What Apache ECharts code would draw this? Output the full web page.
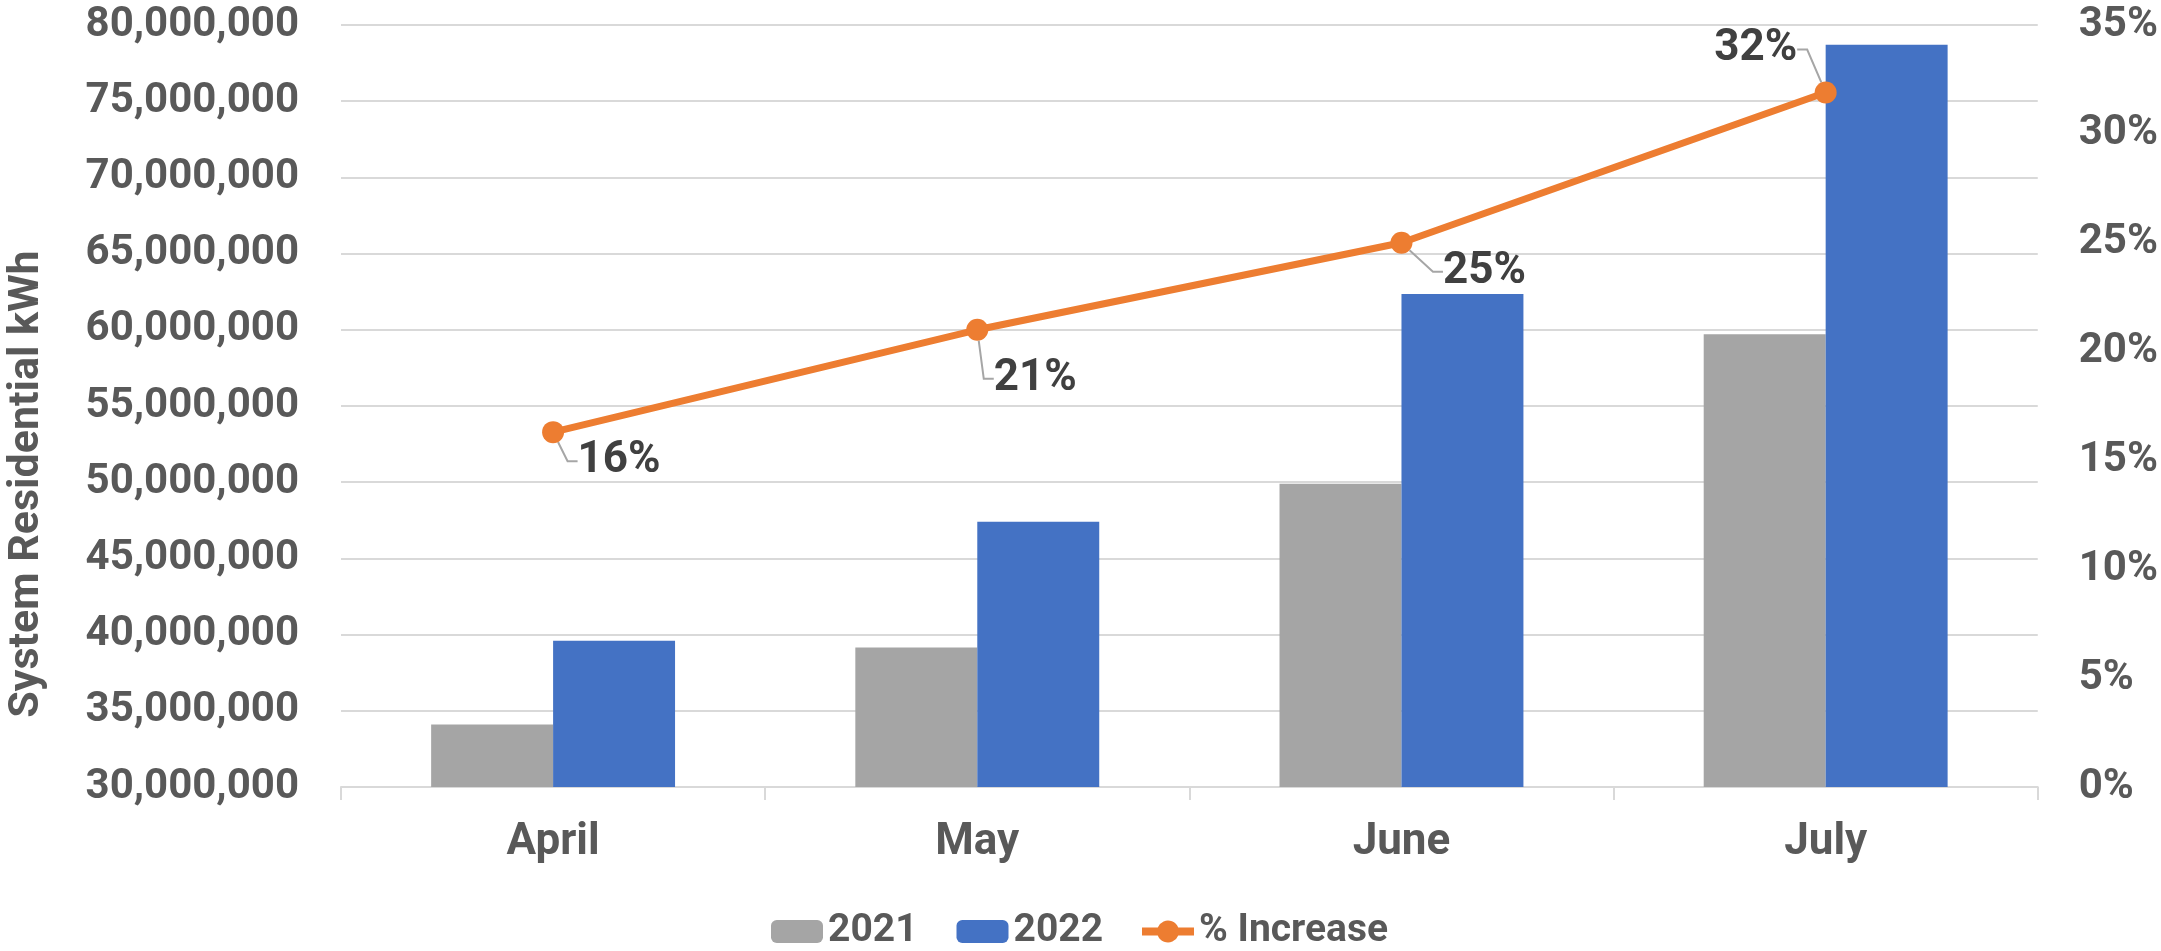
<!DOCTYPE html>
<html>
<head>
<meta charset="utf-8">
<script src="https://cdn.jsdelivr.net/npm/echarts@6/dist/echarts.min.js"></script>
<style>
  html, body { margin: 0; padding: 0; background: #fff; }
  #chart { width: 2161px; height: 951px; }
</style>
</head>
<body>
<div id="chart"></div>
<script>
// 数据
const months = ['April', 'May', 'June', 'July']
const kwh2021 = [34100000, 39150000, 49900000, 59700000]
const kwh2022 = [39600000, 47400000, 62350000, 78700000]
const pctIncrease = [16.3, 21.0, 25.0, 31.9]
const pctLabels = ['16%', '21%', '25%', '32%']

// label offsets for the % Increase points (dx, dy from the point)
const labelShift = [[66, 29], [58, 49], [83, 29], [-70, -43]]

const axisFont = 'Roboto, "Liberation Sans", sans-serif'

// thick line with a dot in the middle, for the legend
const lineIcon = 'path://M0,7.5 H15.75 A11,11 0 0 1 36.25,7.5 H52 V15.5 H36.25 A11,11 0 0 1 15.75,15.5 H0 Z'

const chart = echarts.init(document.getElementById('chart'))

chart.setOption({
  animation: false,
  grid: {
    left: 341,
    right: 120,
    top: 25,
    bottom: 164
  },
  legend: {
    left: 766,
    top: 907,
    itemWidth: 52,
    itemHeight: 23,
    itemGap: 39,
    textStyle: {
      fontFamily: axisFont,
      fontWeight: 'bold',
      fontSize: 39,
      color: '#595959'
    },
    data: [
      '2021',
      '2022',
      { name: '% Increase', icon: lineIcon }
    ]
  },
  graphic: [
    {
      type: 'text',
      x: 27,
      y: 484,
      rotation: Math.PI / 2,
      style: {
        text: 'System Residential kWh',
        fontFamily: axisFont,
        fontWeight: 'bold',
        fontSize: 43,
        fill: '#595959',
        align: 'center',
        verticalAlign: 'middle'
      }
    }
  ],
  xAxis: {
    type: 'category',
    data: months,
    axisLine: { lineStyle: { color: '#d9d9d9', width: 2 } },
    axisTick: { show: true, length: 13, lineStyle: { color: '#d9d9d9', width: 2 } },
    axisLabel: {
      margin: 34,
      fontFamily: axisFont,
      fontWeight: 'bold',
      fontSize: 44,
      color: '#595959'
    }
  },
  yAxis: [
    {
      type: 'value',
      min: 30000000,
      max: 80000000,
      interval: 5000000,
      axisLine: { show: false },
      axisTick: { show: false },
      splitLine: { lineStyle: { color: '#d9d9d9', width: 2 } },
      axisLabel: {
        margin: 42,
        fontFamily: axisFont,
        fontWeight: 'bold',
        fontSize: 42,
        color: '#595959',
        formatter: v => v.toLocaleString('en-US')
      }
    },
    {
      type: 'value',
      min: 0,
      max: 35,
      interval: 5,
      axisLine: { show: false },
      axisTick: { show: false },
      splitLine: { show: false },
      axisLabel: {
        margin: 41,
        fontFamily: axisFont,
        fontWeight: 'bold',
        fontSize: 42,
        color: '#595959',
        formatter: '{value}%'
      }
    }
  ],
  series: [
    {
      name: '2021',
      type: 'bar',
      data: kwh2021,
      barGap: '0%',
      barCategoryGap: '42.5%',
      itemStyle: { color: '#a5a5a5' }
    },
    {
      name: '2022',
      type: 'bar',
      data: kwh2022,
      barGap: '0%',
      barCategoryGap: '42.5%',
      itemStyle: { color: '#4472c4' }
    },
    {
      name: '% Increase',
      type: 'line',
      yAxisIndex: 1,
      data: pctIncrease,
      symbol: 'circle',
      symbolSize: 22,
      z: 5,
      lineStyle: { color: '#ed7d31', width: 7 },
      itemStyle: { color: '#ed7d31' },
      label: {
        show: true,
        position: 'inside',
        formatter: p => pctLabels[p.dataIndex],
        fontFamily: axisFont,
        fontWeight: 'bold',
        fontSize: 44,
        color: '#404040'
      },
      labelLine: {
        show: true,
        length2: 10,
        lineStyle: { color: '#a6a6a6', width: 2 }
      },
      labelLayout: params => ({
        dx: labelShift[params.dataIndex][0],
        dy: labelShift[params.dataIndex][1]
      })
    }
  ]
})
</script>
</body>
</html>
